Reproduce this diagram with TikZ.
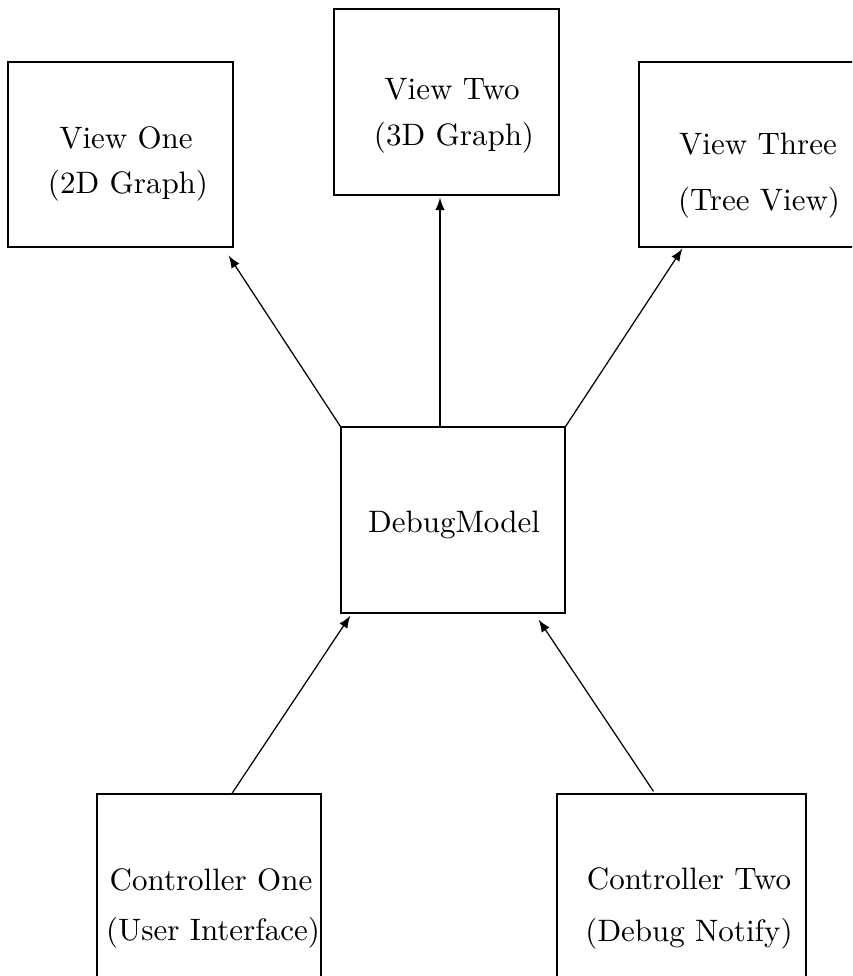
\documentclass[tikz,border=0pt]{standalone}
\usetikzlibrary{calc}
\begin{document}
\begin{tikzpicture}[x=0.3226pt,y=-0.3226pt,
  box/.style={draw,line width=0.4pt,inner sep=0pt},
  lbl/.style={anchor=base,inner sep=0pt,font=\fontsize{10}{12}\selectfont},
  conn/.style={-latex,line width=0.4pt}]
\useasboundingbox (0,0) rectangle (852,976);
\clip (0,0) rectangle (852,976);
% boxes
\node[box,minimum width={225*0.3226pt},minimum height={185*0.3226pt}] (v1) at (120.5,154.5) {};
\node[box,minimum width={225*0.3226pt},minimum height={186*0.3226pt}] (v2) at (446.5,102) {};
\node[box,minimum width={225*0.3226pt},minimum height={185*0.3226pt}] (v3) at (751.5,154.5) {};
\node[box,minimum width={224*0.3226pt},minimum height={186*0.3226pt}] (dm) at (453,520) {};
\node[box,minimum width={224*0.3226pt},minimum height={186*0.3226pt}] (c1) at (209,887) {};
\node[box,minimum width={249*0.3226pt},minimum height={186*0.3226pt}] (c2) at (681.5,887) {};
% labels
\node[lbl] (v1a) at (126,149) {View One};
\node[lbl] (v1b) at (128,194) {(2D Graph)};
\node[lbl] (v2a) at (452,100) {View Two};
\node[lbl] (v2b) at (454,146) {(3D Graph)};
\node[lbl] (v3a) at (758,155) {View Three};
\node[lbl] (v3b) at (759,211) {(Tree View)};
\node[lbl] (dma) at (454,532) {DebugModel};
\node[lbl] (c1a) at (211,890) {Controller One};
\node[lbl] (c1b) at (213,940) {(User Interface)};
\node[lbl] (c2a) at (689,889) {Controller Two};
\node[lbl] (c2b) at (689,941) {(Debug Notify)};
% connectors
\draw[conn] (dm.north west) -- ($(v1.south east)+(-5,8)$);
\draw[conn] ($(dm.north)+(-13,0)$) -- ($(v2.south)+(-6.5,2)$);
\draw[conn] (dm.north east) -- ($(v3.south west)+(44,1)$);
\draw[conn] ($(c1.north)+(23,0)$) -- ($(dm.south west)+(10,2)$);
\draw[conn] ($(c2.north)+(-28,-2)$) -- ($(dm.south east)+(-27,6)$);
\end{tikzpicture}
\end{document}
